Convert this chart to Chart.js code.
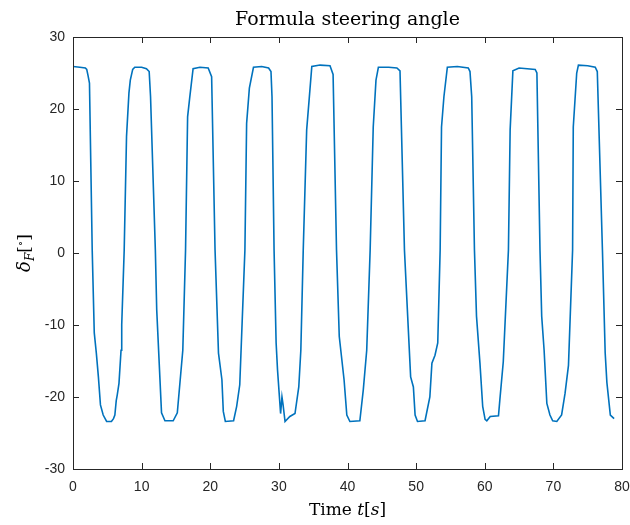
<!DOCTYPE html>
<html>
<head>
<meta charset="utf-8">
<script src="https://cdn.jsdelivr.net/npm/chart.js@4"></script>
<style>
  html, body { margin: 0; padding: 0; background: #fff; }
  #wrap { width: 630px; height: 525px; }
</style>
</head>
<body>
<div id="wrap"><canvas id="chart" width="630" height="525"></canvas></div>
<script>
// time [s] and front steering angle [deg]
const timeS = [
  0, 1.0, 1.8, 2.0, 2.2, 2.4, 2.6, 2.8, 3.1, 3.4, 3.7, 4.0, 4.4, 4.9, 5.6, 5.9, 6.1, 6.3, 6.45, 6.7, 7.0, 7.1, 7.46, 7.8, 8.15, 8.35, 8.7, 9.0, 10.0, 10.7, 11.1, 11.3,
  12.0, 12.2, 12.9, 13.4, 14.6, 15.2, 16.0, 16.4, 16.7, 17.0, 17.5, 18.5, 19.7, 20.2,
  20.7, 21.2, 21.7, 21.9, 22.2, 23.4, 23.85, 24.3, 25.05, 25.3, 25.7, 26.3, 27.5, 28.5, 28.85, 29.0,
  29.3, 29.6, 29.8, 30.25, 30.45, 30.6, 30.9, 31.6, 32.35, 32.9, 33.2, 33.55, 34.05, 34.4, 34.8, 36.0, 37.45, 37.9,
  38.4, 38.8, 39.5, 39.9, 40.35, 41.8, 42.3, 42.8, 43.3, 43.75, 44.15, 44.5, 46.0, 47.2, 47.65,
  48.3, 49.2, 49.6, 49.85, 50.2, 51.3, 52.0, 52.3, 52.75, 53.15, 53.5, 53.7, 54.05, 54.55, 56.0, 57.6, 57.85, 58.1,
  58.5, 58.8, 59.3, 59.7, 60.05, 60.3, 60.8, 62.0, 62.2, 62.7, 63.45, 63.7, 64.1, 65.0, 67.35, 67.6,
  68.05, 68.3, 68.65, 69.05, 69.5, 69.9, 70.5, 71.2, 71.7, 72.2, 72.8, 72.9, 73.4, 73.65, 75.0, 76.1, 76.4,
  77.15, 77.55, 77.8, 78.3, 78.85
];
const steerDeg = [
  25.9, 25.8, 25.7, 25.5, 24.6, 23.6, 12.0, 0.4, -11.1, -13.9, -17.2, -21.1, -22.5, -23.4, -23.4, -23.0, -22.5, -20.5, -19.7, -18.1, -13.5, -10.0, 0.4, 16.2, 22.2, 24.0, 25.5, 25.8, 25.8, 25.6, 25.2, 21.7,
  0.4, -7.9, -22.2, -23.3, -23.3, -22.2, -13.5, 0.4, 18.9, 21.5, 25.6, 25.8, 25.7, 24.5,
  0.4, -13.9, -17.6, -22.0, -23.4, -23.3, -21.3, -18.3, 0.4, 18.0, 22.9, 25.8, 25.9, 25.7, 25.2, 21.7,
  0.4, -12.5, -16.2, -22.3, -20.0, -21.0, -23.4, -22.7, -22.3, -18.6, -13.5, 0.4, 17.1, 21.2, 25.9, 26.1, 26.0, 24.8,
  0.4, -11.6, -17.6, -22.5, -23.4, -23.3, -19.0, -13.5, 0.4, 17.5, 24.0, 25.8, 25.8, 25.7, 25.3,
  0.4, -17.2, -18.6, -22.5, -23.4, -23.3, -20.0, -15.3, -14.2, -12.5, 0.4, 17.5, 21.7, 25.8, 25.9, 25.7, 25.2, 21.7,
  0.4, -8.8, -15.3, -21.3, -23.1, -23.3, -22.7, -22.6, -20.4, -15.1, 0.4, 17.1, 25.3, 25.7, 25.5, 25.0,
  0.4, -8.8, -13.5, -20.9, -22.5, -23.3, -23.4, -22.5, -19.5, -15.6, 0.4, 17.5, 25.0, 26.1, 26.0, 25.8, 25.2,
  0.4, -13.9, -18.0, -22.5, -23.0
];
const xTicks = [0, 10, 20, 30, 40, 50, 60, 70, 80];
const yTicks = [-30, -20, -10, 0, 10, 20, 30];

const points = timeS.map((t, i) => ({ x: t, y: steerDeg[i] }));

const axisColor = '#262626';
const serif = '"DejaVu Serif", "Liberation Serif", serif';

// draws a run of text pieces, each with its own font and baseline shift
function drawRuns(ctx, runs, cx, cy) {
  let total = 0;
  runs.forEach(r => { ctx.font = r.font; r.w = ctx.measureText(r.text).width; total += r.w; });
  let x = cx - total / 2;
  runs.forEach(r => {
    ctx.font = r.font;
    ctx.fillText(r.text, x, cy + (r.dy || 0));
    x += r.w;
  });
}

const matlabFrame = {
  id: 'matlabFrame',
  afterDatasetsDraw(chart) {
    const { ctx, chartArea: a, scales } = chart;
    ctx.save();
    ctx.strokeStyle = axisColor;
    ctx.lineWidth = 1;
    ctx.strokeRect(a.left + 0.5, a.top + 0.5, a.right - a.left, a.bottom - a.top);
    const len = 6;
    ctx.beginPath();
    scales.x.ticks.forEach(t => {
      const px = Math.round(scales.x.getPixelForValue(t.value)) + 0.5;
      ctx.moveTo(px, a.bottom); ctx.lineTo(px, a.bottom - len);
      ctx.moveTo(px, a.top); ctx.lineTo(px, a.top + len);
    });
    scales.y.ticks.forEach(t => {
      const py = Math.round(scales.y.getPixelForValue(t.value)) + 0.5;
      ctx.moveTo(a.left, py); ctx.lineTo(a.left + len, py);
      ctx.moveTo(a.right, py); ctx.lineTo(a.right - len, py);
    });
    ctx.stroke();

    ctx.fillStyle = '#000';
    ctx.textBaseline = 'alphabetic';
    ctx.textAlign = 'left';
    const mid = (a.left + a.right) / 2;
    drawRuns(ctx, [{ text: 'Formula steering angle', font: '19px ' + serif }], mid, 25);
    drawRuns(ctx, [
      { text: 'Time ', font: '17px ' + serif },
      { text: 't', font: 'italic 17px ' + serif },
      { text: '[', font: '17px ' + serif },
      { text: 's', font: 'italic 17px ' + serif },
      { text: ']', font: '17px ' + serif }
    ], mid, 515);

    ctx.translate(30, (a.top + a.bottom) / 2);
    ctx.rotate(-Math.PI / 2);
    drawRuns(ctx, [
      { text: 'δ', font: 'italic 18px ' + serif },
      { text: 'F', font: 'italic 12px ' + serif, dy: 4 },
      { text: '[', font: '17px ' + serif },
      { text: '∘', font: '11px ' + serif, dy: -6 },
      { text: ']', font: '17px ' + serif }
    ], 0, 0);
    ctx.restore();
  }
};

new Chart(document.getElementById('chart'), {
  type: 'line',
  data: {
    datasets: [{
      data: points,
      borderColor: '#0072BD',
      borderWidth: 1.6,
      pointRadius: 0,
      tension: 0,
      fill: false
    }]
  },
  options: {
    responsive: false,
    animation: false,
    devicePixelRatio: 1,
    layout: { padding: { left: 0, top: 37, right: 0, bottom: 0 } },
    plugins: { legend: { display: false }, title: { display: false }, tooltip: { enabled: false } },
    scales: {
      x: {
        type: 'linear',
        min: 0, max: 80,
        afterBuildTicks: s => { s.ticks = xTicks.map(v => ({ value: v })); },
        afterFit: s => { s.height = 56; s.paddingRight = 8; },
        grid: { display: false, drawTicks: false },
        border: { display: false },
        ticks: { color: axisColor, font: { family: 'Liberation Sans', size: 14 }, padding: 10, maxRotation: 0 }
      },
      y: {
        min: -30, max: 30,
        afterBuildTicks: s => { s.ticks = yTicks.map(v => ({ value: v })); },
        afterFit: s => { s.width = 73; },
        grid: { display: false, drawTicks: false },
        border: { display: false },
        ticks: { color: axisColor, font: { family: 'Liberation Sans', size: 14 }, padding: 8 }
      }
    }
  },
  plugins: [matlabFrame]
});
</script>
</body>
</html>
